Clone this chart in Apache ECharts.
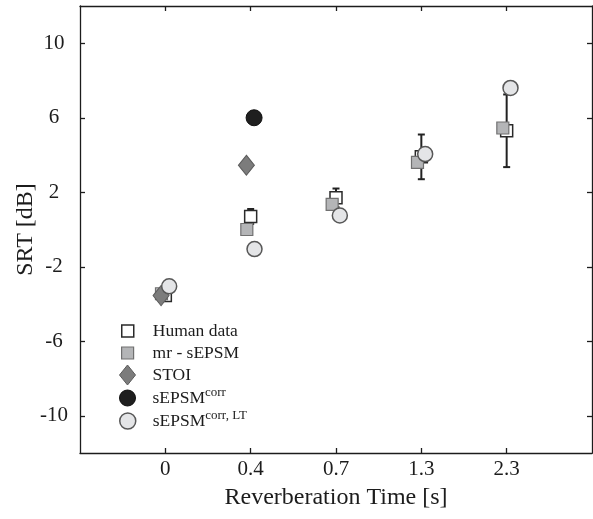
<!DOCTYPE html>
<html>
<head>
<meta charset="utf-8">
<script src="https://cdn.jsdelivr.net/npm/echarts@6/dist/echarts.min.js"></script>
<style>
  html, body { margin: 0; padding: 0; background: #fff; }
  #srt { width: 593px; height: 519px; }
</style>
</head>
<body>
<div id="srt"></div>
<script>
// reverberation conditions, drawn at positions 1..5 of the x axis
const rtLabels = ["0", "0.4", "0.7", "1.3", "2.3"];
const rtPos = [1, 2, 3, 4, 5];
const yTicks = [-10, -6, -2, 2, 6, 10];

// SRT values [dB]
const humanSRT = [-3.55, 0.7, 1.7, 3.9, 5.3];
const humanErr = [0.25, 0.4, 0.5, 1.2, 1.95];
const mrSEPSM = [-3.45, 0.0, 1.35, 3.6, 5.45];
const stoiPos = [1, 2];
const stoiSRT = [-3.55, 3.45];
const corrPos = [2];
const corrSRT = [6.0];
const corrLT = [-3.05, -1.05, 0.75, 4.05, 7.6];

const FONT = "Liberation Serif";
const INK = "#1c1c1c";

const styles = {
  human: { color: "#ffffff", borderColor: "#2a2a2a", borderWidth: 1.5, opacity: 1 },
  mr: { color: "#b4b5b7", borderColor: "#707070", borderWidth: 1.2, opacity: 1 },
  stoi: { color: "#7c7c7c", borderColor: "#5c5c5c", borderWidth: 1, opacity: 1 },
  corr: { color: "#1f1f1f", borderColor: "#111111", borderWidth: 1, opacity: 1 },
  lt: { color: "#e4e5e7", borderColor: "#575757", borderWidth: 1.5, opacity: 1 }
};

const SQUARE = "path://M0,0L1,0L1,1L0,1Z";
const DIAMOND = "path://M4,0L8,5L4,10L0,5Z";

function pairs(pos, vals, dodge) {
  return vals.map((v, i) => [pos[i] + dodge, v]);
}

// one legend per row so every icon keeps its own size;
// half = half width of the drawn icon, icons centred on x = 127
function legendRow(name, icon, h, half, cy, style) {
  return {
    data: [{ name: name, icon: icon }],
    selectedMode: false,
    left: 127 - half,
    top: cy - 12,
    padding: 0,
    itemWidth: 40,
    itemHeight: h,
    itemStyle: style,
    formatter: n => {
      if (n === "sEPSMcorr") return "sEPSM{sup|corr}";
      if (n === "sEPSMcorrLT") return "sEPSM{sup|corr, LT}";
      return n;
    },
    textStyle: {
      fontFamily: FONT,
      fontSize: 17.5,
      lineHeight: 24,
      color: INK,
      rich: {
        sup: { fontFamily: FONT, fontSize: 13, lineHeight: 12, verticalAlign: "top", color: INK }
      }
    }
  };
}

const chart = echarts.init(document.getElementById("srt"));

const tickSide = {
  show: true,
  inside: true,
  length: 5,
  lineStyle: { color: INK, width: 1.3 }
};
const lineSide = { show: true, onZero: false, lineStyle: { color: INK, width: 1.3 } };

chart.setOption({
  animation: false,
  backgroundColor: "#fff",
  grid: { left: 80, right: 1, top: 6, bottom: 66 },
  legend: [
    legendRow("Human data", SQUARE, 12, 6, 331, styles.human),
    legendRow("mr - sEPSM", SQUARE, 12, 6, 353, styles.mr),
    legendRow("STOI", DIAMOND, 20, 8, 375, styles.stoi),
    legendRow("sEPSMcorr", "circle", 16, 8, 398, styles.corr),
    legendRow("sEPSMcorrLT", "circle", 16, 8, 421, styles.lt)
  ],
  xAxis: [
    {
      type: "value",
      min: 0,
      max: 6,
      position: "bottom",
      name: "Reverberation Time [s]",
      nameLocation: "middle",
      nameGap: 33,
      nameMoveOverlap: false,
      nameTextStyle: { fontFamily: FONT, fontSize: 24, color: INK },
      axisLine: lineSide,
      axisTick: Object.assign({ customValues: rtPos }, tickSide),
      axisLabel: {
        customValues: rtPos,
        formatter: v => rtLabels[rtPos.indexOf(v)] || "",
        fontFamily: FONT,
        fontSize: 21,
        color: INK,
        margin: 6
      },
      splitLine: { show: false }
    },
    {
      type: "value",
      min: 0,
      max: 6,
      position: "top",
      axisLine: lineSide,
      axisTick: Object.assign({ customValues: rtPos }, tickSide),
      axisLabel: { show: false },
      splitLine: { show: false }
    }
  ],
  yAxis: [
    {
      type: "value",
      min: -12,
      max: 12,
      position: "left",
      name: "SRT [dB]",
      nameLocation: "middle",
      nameGap: 42,
      nameMoveOverlap: false,
      nameTextStyle: { fontFamily: FONT, fontSize: 24, color: INK },
      axisLine: lineSide,
      axisTick: Object.assign({ customValues: yTicks }, tickSide),
      axisLabel: {
        customValues: yTicks,
        fontFamily: FONT,
        fontSize: 21,
        color: INK,
        align: "center",
        margin: 26
      },
      splitLine: { show: false }
    },
    {
      type: "value",
      min: -12,
      max: 12,
      position: "right",
      axisLine: lineSide,
      axisTick: Object.assign({ customValues: yTicks }, tickSide),
      axisLabel: { show: false },
      splitLine: { show: false }
    }
  ],
  series: [
    {
      // error bars of the human data
      type: "custom",
      name: "err",
      z: 1,
      data: humanSRT.map((v, i) => [rtPos[i], v - humanErr[i], v + humanErr[i]]),
      renderItem: (params, api) => {
        const lo = api.coord([api.value(0), api.value(1)]);
        const hi = api.coord([api.value(0), api.value(2)]);
        const cap = 3.5;
        const st = { stroke: "#222", lineWidth: 2 };
        return {
          type: "group",
          children: [
            { type: "line", shape: { x1: lo[0], y1: lo[1], x2: hi[0], y2: hi[1] }, style: st },
            { type: "line", shape: { x1: lo[0] - cap, y1: lo[1], x2: lo[0] + cap, y2: lo[1] }, style: st },
            { type: "line", shape: { x1: hi[0] - cap, y1: hi[1], x2: hi[0] + cap, y2: hi[1] }, style: st }
          ]
        };
      }
    },
    {
      type: "scatter",
      name: "Human data",
      z: 2,
      symbol: "rect",
      symbolSize: 12,
      itemStyle: styles.human,
      data: pairs(rtPos, humanSRT, 0)
    },
    {
      type: "scatter",
      name: "mr - sEPSM",
      z: 3,
      symbol: "rect",
      symbolSize: 12,
      itemStyle: styles.mr,
      data: pairs(rtPos, mrSEPSM, -0.045)
    },
    {
      type: "scatter",
      name: "STOI",
      z: 4,
      symbol: "diamond",
      symbolSize: [16, 20],
      itemStyle: styles.stoi,
      data: pairs(stoiPos, stoiSRT, -0.05)
    },
    {
      type: "scatter",
      name: "sEPSMcorr",
      z: 5,
      symbol: "circle",
      symbolSize: 16,
      itemStyle: styles.corr,
      data: pairs(corrPos, corrSRT, 0.04)
    },
    {
      type: "scatter",
      name: "sEPSMcorrLT",
      z: 6,
      symbol: "circle",
      symbolSize: 15,
      itemStyle: styles.lt,
      data: pairs(rtPos, corrLT, 0.045)
    }
  ]
});
</script>
</body>
</html>
